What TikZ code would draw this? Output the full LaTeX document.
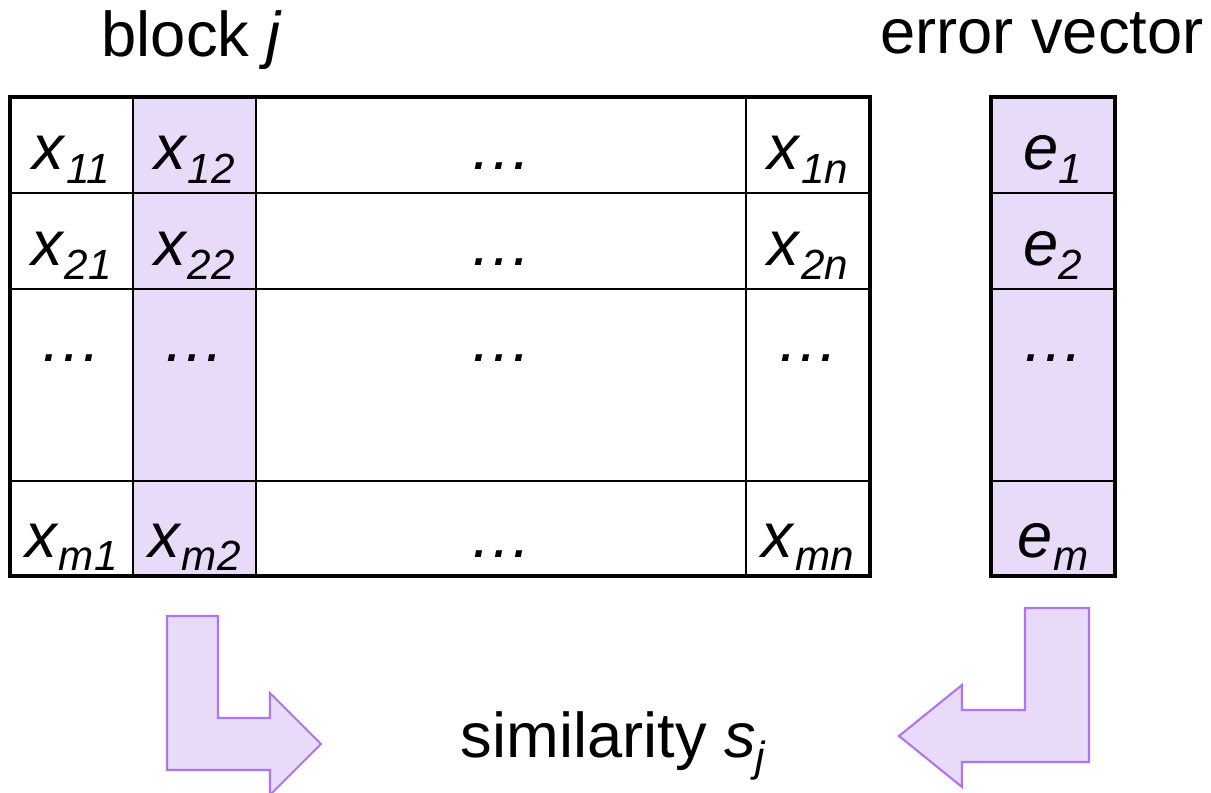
\documentclass[tikz,border=0pt]{standalone}
\usepackage{fontspec}
\setmainfont{Liberation Sans}
\definecolor{lilac}{RGB}{231,219,249}
\definecolor{violetline}{RGB}{178,115,240}
\newcommand{\lowsub}[1]{\raisebox{-3.7pt}{\fontsize{12}{14}\selectfont\itshape #1}}
\newcommand{\xx}[1]{\textit{x}\lowsub{#1}}
\newcommand{\ee}[1]{\textit{e}\lowsub{#1}}
\tikzset{
  gridline/.style={line width=0.45pt},
  frameline/.style={line width=1.3pt},
  celltext/.style={anchor=base, inner sep=0pt, font=\fontsize{18}{22}\selectfont},
  bigarrow/.style={fill=lilac, draw=violetline, line width=0.6pt, line join=miter},
}
\begin{document}
\begin{tikzpicture}
\useasboundingbox (0,0) rectangle (12.11,7.93);
% shaded column of block j and error vector
\fill[lilac] (1.33,2.17) rectangle (2.56,6.96);
\fill[lilac] (9.91,2.17) rectangle (11.15,6.96);
% matrix grid
\draw[gridline] (0.10,6.00) -- (8.70,6.00);
\draw[gridline] (0.10,5.04) -- (8.70,5.04);
\draw[gridline] (0.10,3.12) -- (8.70,3.12);
\draw[gridline] (1.33,2.17) -- (1.33,6.96);
\draw[gridline] (2.56,2.17) -- (2.56,6.96);
\draw[gridline] (7.46,2.17) -- (7.46,6.96);
\draw[frameline] (0.10,2.17) rectangle (8.70,6.96);
% error vector grid
\draw[gridline] (9.91,6.00) -- (11.15,6.00);
\draw[gridline] (9.91,5.04) -- (11.15,5.04);
\draw[gridline] (9.91,3.12) -- (11.15,3.12);
\draw[frameline] (9.91,2.17) rectangle (11.15,6.96);
% row 1
\node[celltext] (x11) at (0.715,6.23) {\xx{11}};
\node[celltext] (x12) at (1.945,6.23) {\xx{12}};
\node[celltext] (d13) at (5.01,6.23) {\textit{…}};
\node[celltext] (x1n) at (8.08,6.23) {\xx{1n}};
\node[celltext] (e1) at (10.53,6.23) {\ee{1}};
% row 2
\node[celltext] (x21) at (0.715,5.27) {\xx{21}};
\node[celltext] (x22) at (1.945,5.27) {\xx{22}};
\node[celltext] (d23) at (5.01,5.27) {\textit{…}};
\node[celltext] (x2n) at (8.08,5.27) {\xx{2n}};
\node[celltext] (e2) at (10.53,5.27) {\ee{2}};
% row 3
\node[celltext] (d31) at (0.715,4.31) {\textit{…}};
\node[celltext] (d32) at (1.945,4.31) {\textit{…}};
\node[celltext] (d33) at (5.01,4.31) {\textit{…}};
\node[celltext] (d3n) at (8.08,4.31) {\textit{…}};
\node[celltext] (d3e) at (10.53,4.31) {\textit{…}};
% row m
\node[celltext] (xm1) at (0.715,2.36) {\xx{m1}};
\node[celltext] (xm2) at (1.945,2.36) {\xx{m2}};
\node[celltext] (dm3) at (5.01,2.36) {\textit{…}};
\node[celltext] (xmn) at (8.08,2.36) {\xx{mn}};
\node[celltext] (em) at (10.53,2.36) {\ee{m}};
% captions
\node[celltext] (blocklbl) at (1.92,7.36) {block \textit{j}};
\node[celltext] (errlbl) at (10.42,7.40) {error vector};
\node[celltext] (simlbl) at (6.13,0.35) {similarity \textit{s}\lowsub{j}};
% block arrows
\draw[bigarrow] (1.67,1.77) -- (2.18,1.77) -- (2.18,0.75) -- (2.70,0.75) -- (2.70,1.00)
  -- (3.21,0.49) -- (2.70,-0.02) -- (2.70,0.23) -- (1.67,0.23) -- cycle;
\draw[bigarrow] (10.25,1.85) -- (10.89,1.85) -- (10.89,0.31) -- (9.62,0.31) -- (9.62,0.06)
  -- (8.99,0.57) -- (9.62,1.08) -- (9.62,0.83) -- (10.25,0.83) -- cycle;
\end{tikzpicture}
\end{document}
